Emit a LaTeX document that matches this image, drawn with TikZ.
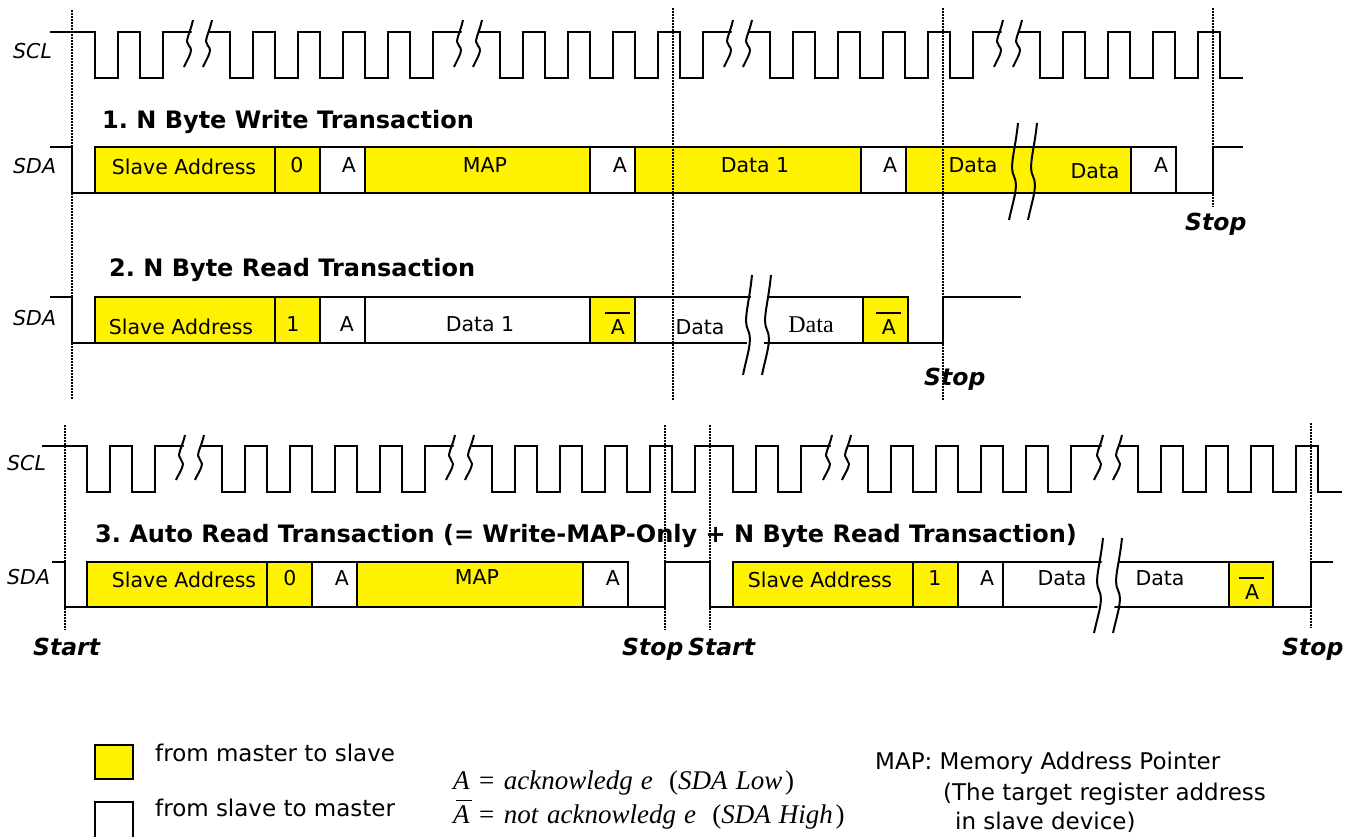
\documentclass[tikz,border=0pt]{standalone}
\usepackage{fontspec}
\setmainfont{DejaVu Sans}
\newfontfamily\timesfont{Liberation Serif}
\frenchspacing

\newcommand\squig[3]{\draw[wave] ({#1+5},#2) .. controls ({#1+2},{#2+0.3*(#3-#2)}) and ({#1-4},{#2+0.45*(#3-#2)}) .. ({#1+1},{#2+0.55*(#3-#2)}) .. controls ({#1+6},{#2+0.65*(#3-#2)}) and ({#1},{#2+0.8*(#3-#2)}) .. ({#1-4},#3);}
\newcommand\brk[4][white]{\path[fill=#1] ({#2+9},#3) -- ({#2+26},#3) -- ({#2+17},#4) -- ({#2},#4) -- cycle;
  \squig{#2+3}{#3}{#4}\squig{#2+22}{#3}{#4}}
\newcommand\nack{\rlap{\kern-0.29em\rule[1.0em]{1.22em}{0.09em}}A}

\tikzset{
  wave/.style={line width=2pt},
  bitbox/.style={draw, line width=2pt},
  mst/.style={bitbox, fill=yellow},
  slv/.style={bitbox, fill=white},
  dots/.style={line width=1.5pt, dash pattern=on 1.5pt off 1.5pt},
  sig/.style={font=\fontsize{20.5}{24}\selectfont\itshape, anchor=base west, inner sep=0pt},
  head/.style={font=\fontsize{24}{28}\selectfont\bfseries, anchor=base west, inner sep=0pt},
  cond/.style={font=\fontsize{23.5}{28}\selectfont\bfseries\itshape, anchor=base west, inner sep=0pt},
  txt/.style={font=\fontsize{20.5}{24}\selectfont, anchor=base, inner sep=0pt},
  leg/.style={font=\fontsize{23}{28}\selectfont, anchor=base west, inner sep=0pt},
  eqn/.style={font=\timesfont\fontsize{27}{30}\selectfont, anchor=base west, inner sep=0pt}
}

\begin{document}
\begin{tikzpicture}[x=1pt, y=-1pt]
\useasboundingbox (0,0) rectangle (1357,836);

% 1. write
\node[sig] (scl1) at (13,58) {SCL};
\draw[wave] (50,32) foreach \x in {95,140,230,275,320,365,410,500,545,590,635,680,770,815,860,905,950,1040,1085,1130,1175} {-- (\x,32) -- (\x,78) -- (\x+22.5,78) -- (\x+22.5,32)} -- (1220,32) -- (1220,78) -- (1243,78);
\foreach \x in {185,455,725,995} {\brk{\x}{20}{67}}

\node[head] (title1) at (102,128) {1. N Byte Write Transaction};
\node[sig] (sda1) at (13,173) {SDA};
\draw[wave] (50,147) -- (72,147) -- (72,193) -- (95,193);
\draw[mst] (95,147) rectangle (275,193);
\draw[mst] (275,147) rectangle (320,193);
\draw[slv] (320,147) rectangle (365,193);
\draw[mst] (365,147) rectangle (590,193);
\draw[slv] (590,147) rectangle (635,193);
\draw[mst] (635,147) rectangle (861,193);
\draw[slv] (861,147) rectangle (906,193);
\draw[mst] (906,147) rectangle (1131,193);
\draw[slv] (1131,147) rectangle (1176,193);
\draw[wave] (1176,193) -- (1213,193) -- (1213,147) -- (1243,147);
\brk[none]{1010}{123}{220}
\node[txt] (sa1) at (184,174) {Slave Address};
\node[txt] (wr1) at (297,172) {0};
\node[txt] (ack1a) at (349,172) {A};
\node[txt] (map1) at (485,172) {MAP};
\node[txt] (ack1b) at (620,172) {A};
\node[txt] (dat1a) at (755,172) {Data 1};
\node[txt] (ack1c) at (890,172) {A};
\node[txt] (dat1b) at (973,172) {Data};
\node[txt] (dat1c) at (1095,178) {Data};
\node[txt] (ack1d) at (1161,172) {A};
\node[cond] (stop1) at (1185,230) {Stop};

% 2. read
\node[head] (title2) at (109,276) {2. N Byte Read Transaction};
\node[sig] (sda2) at (13,325) {SDA};
\draw[wave] (50,297) -- (72,297) -- (72,343) -- (95,343);
\draw[mst] (95,297) rectangle (275,343);
\draw[mst] (275,297) rectangle (320,343);
\draw[slv] (320,297) rectangle (365,343);
\draw[slv] (365,297) rectangle (590,343);
\draw[mst] (590,297) rectangle (635,343);
\draw[slv] (635,297) rectangle (863,343);
\draw[mst] (863,297) rectangle (908,343);
\draw[wave] (908,343) -- (943,343) -- (943,297) -- (1021,297);
\brk{744}{275}{375}
\node[txt] (sa2) at (181,334) {Slave Address};
\node[txt] (rd2) at (293,331) {1};
\node[txt] (ack2a) at (347,331) {A};
\node[txt] (dat2a) at (480,331) {Data 1};
\node[txt] (nack2a) at (618,334) {\nack};
\node[txt] (dat2b) at (700,334) {Data};
\node[txt, font=\timesfont\fontsize{24}{28}\selectfont] (dat2c) at (811,332) {Data};
\node[txt] (nack2b) at (889,334) {\nack};
\node[cond] (stop2) at (924,385) {Stop};

% 3. auto read
\node[sig] (scl3) at (7,470) {SCL};
\draw[wave] (42,446) foreach \x in {87,132,222,267,312,357,402,492,537,582,627,672,733,778,868,913,958,1003,1048,1138,1183,1228,1273} {-- (\x,446) -- (\x,492) -- (\x+22.5,492) -- (\x+22.5,446)} -- (1318,446) -- (1318,492) -- (1342,492);
\foreach \x in {177,447,824,1095} {\brk{\x}{435}{480}}

\node[head] (title3) at (95,542) {3. Auto Read Transaction (= Write-MAP-Only + N Byte Read Transaction)};
\node[sig] (sda3) at (7,584) {SDA};
\draw[wave] (52,562) -- (65,562) -- (65,607) -- (87,607);
\draw[mst] (87,562) rectangle (267,607);
\draw[mst] (267,562) rectangle (312,607);
\draw[slv] (312,562) rectangle (357,607);
\draw[mst] (357,562) rectangle (583,607);
\draw[slv] (583,562) rectangle (628,607);
\draw[wave] (628,607) -- (665,607) -- (665,562) -- (710,562) -- (710,607) -- (733,607);
\draw[mst] (733,562) rectangle (913,607);
\draw[mst] (913,562) rectangle (958,607);
\draw[slv] (958,562) rectangle (1003,607);
\draw[slv] (1003,562) rectangle (1229,607);
\draw[mst] (1229,562) rectangle (1273,607);
\draw[wave] (1273,607) -- (1311,607) -- (1311,562) -- (1333,562);
\brk{1095}{538}{633}
\node[txt] (sa3a) at (184,587) {Slave Address};
\node[txt] (wr3) at (290,585) {0};
\node[txt] (ack3a) at (342,585) {A};
\node[txt] (map3) at (477,584) {MAP};
\node[txt] (ack3b) at (613,585) {A};
\node[txt] (sa3b) at (820,587) {Slave Address};
\node[txt] (rd3) at (935,585) {1};
\node[txt] (ack3c) at (987,585) {A};
\node[txt] (dat3a) at (1062,585) {Data};
\node[txt] (dat3b) at (1160,585) {Data};
\node[txt] (nack3) at (1252,599) {\nack};
\node[cond] (start3a) at (33,655) {Start};
\node[cond] (stop3a) at (622,655) {Stop};
\node[cond] (start3b) at (688,655) {Start};
\node[cond] (stop3b) at (1282,655) {Stop};

\draw[dots] (72,10) -- (72,400);
\draw[dots] (673,8) -- (673,400);
\draw[dots] (943,8) -- (943,400);
\draw[dots] (1213,8) -- (1213,207);
\draw[dots] (65,425) -- (65,630);
\draw[dots] (665,425) -- (665,630);
\draw[dots] (710,425) -- (710,630);
\draw[dots] (1311,423) -- (1311,628);

% legend
\draw[mst] (95,745) rectangle (133,779);
\draw[slv] (95,802) rectangle (133,840);
\node[leg] (keym) at (155,761) {from master to slave};
\node[leg] (keys) at (155,816) {from slave to master};
\node[eqn] (ackdef) at (453,789) {\textit{A}\hspace{0.35em}=\hspace{0.35em}\textit{acknowledg}\hspace{0.3em}\textit{e}\hspace{0.6em}(\textit{SDA}\hspace{0.3em}\textit{Low}\hspace{0.1em})};
\node[eqn] (nackdef) at (453,823) {\rlap{\kern0.1em\rule[0.8em]{0.6em}{0.06em}}\textit{A}\hspace{0.35em}=\hspace{0.35em}\textit{not}\hspace{0.3em}\textit{acknowledg}\hspace{0.3em}\textit{e}\hspace{0.6em}(\textit{SDA}\hspace{0.3em}\textit{High}\hspace{0.1em})};
\node[leg] (mapdef) at (875,769) {MAP: Memory Address Pointer};
\node[leg] (mapdef2) at (943,800) {(The target register address};
\node[leg] (mapdef3) at (955,829) {in slave device)};
\end{tikzpicture}
\end{document}
